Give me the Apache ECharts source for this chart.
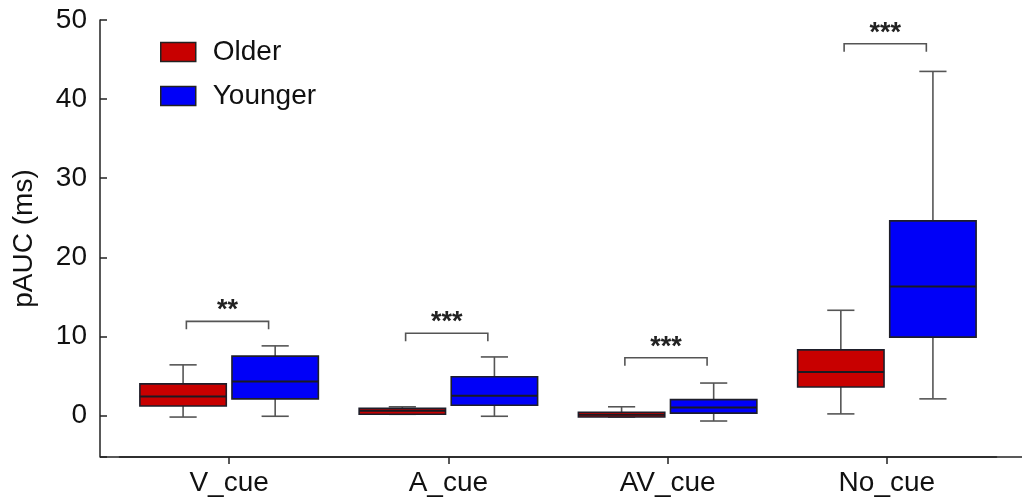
<!DOCTYPE html>
<html>
<head>
<meta charset="utf-8">
<script src="https://cdn.jsdelivr.net/npm/echarts@6/dist/echarts.min.js"></script>
<style>html,body{margin:0;padding:0;background:#fff;}#c{width:1022px;height:499px;}</style>
</head>
<body>
<div id="c"></div>
<script>
var categories = ['V_cue', 'A_cue', 'AV_cue', 'No_cue'];
// [categoryIndex, min, Q1, median, Q3, max]
var olderBoxes = [
  [0, -0.2, 1.2, 2.4, 4.0, 6.4],
  [1, 0.15, 0.15, 0.6, 0.9, 1.1],
  [2, -0.2, -0.2, 0.1, 0.4, 1.1],
  [3, 0.2, 3.6, 5.5, 8.3, 13.3]
];
var youngerBoxes = [
  [0, -0.1, 2.1, 4.3, 7.5, 8.8],
  [1, -0.1, 1.3, 2.5, 4.9, 7.4],
  [2, -0.7, 0.3, 1.0, 2.0, 4.1],
  [3, 2.1, 9.9, 16.3, 24.6, 43.5]
];
var sigHeights = [[0, 11.9], [1, 10.4], [2, 7.3], [3, 47.0]];
var sigLabels = ['**', '***', '***', '***'];
var yTicks = [0, 10, 20, 30, 40, 50];

var FONT = "'Liberation Sans', Arial, sans-serif";
var RED = '#C80000', BLUE = '#0000F8';

function boxRender(sign, fill) {
  return function (params, api) {
    var cat = api.value(0);
    var bw = api.size([1, 0])[0];
    var cx = api.coord([cat, 0])[0] + sign * bw * 0.21;
    var hw = bw * 0.197;
    var cap = bw * 0.062;
    var yMin = api.coord([cat, api.value(1)])[1];
    var yQ1 = api.coord([cat, api.value(2)])[1];
    var yMed = api.coord([cat, api.value(3)])[1];
    var yQ3 = api.coord([cat, api.value(4)])[1];
    var yMax = api.coord([cat, api.value(5)])[1];
    var wh = {stroke: '#555', lineWidth: 1.6};
    var children = [
      {type: 'line', shape: {x1: cx, y1: yMax, x2: cx, y2: yQ3}, style: wh},
      {type: 'line', shape: {x1: cx, y1: yQ1, x2: cx, y2: yMin}, style: wh},
      {type: 'line', shape: {x1: cx - cap, y1: yMax, x2: cx + cap, y2: yMax}, style: wh},
      {type: 'line', shape: {x1: cx - cap, y1: yMin, x2: cx + cap, y2: yMin}, style: wh},
      {type: 'rect', shape: {x: cx - hw, y: yQ3, width: 2 * hw, height: Math.max(yQ1 - yQ3, 1)},
        style: {fill: fill, stroke: '#1e1e2a', lineWidth: 1.6}},
      {type: 'line', shape: {x1: cx - hw, y1: yMed, x2: cx + hw, y2: yMed},
        style: {stroke: '#1a1a22', lineWidth: 2}}
    ];
    return {type: 'group', children: children};
  };
}

function sigRender(params, api) {
  var cat = api.value(0);
  var bw = api.size([1, 0])[0];
  var c = api.coord([cat, api.value(1)]);
  var x1 = c[0] - bw * 0.195, x2 = c[0] + bw * 0.18, y = c[1];
  return {type: 'group', children: [
    {type: 'polyline', shape: {points: [[x1, y + 8], [x1, y], [x2, y], [x2, y + 8]]},
      style: {stroke: '#555', lineWidth: 1.6, fill: null}},
    {type: 'text', x: (x1 + x2) / 2, y: y + 3,
      style: {text: sigLabels[params.dataIndex], font: 'bold 27px ' + FONT, fill: '#222',
        textAlign: 'center', textVerticalAlign: 'bottom'}}
  ]};
}

var chart = echarts.init(document.getElementById('c'), null, {renderer: 'canvas'});
chart.setOption({
  backgroundColor: '#fff',
  animation: false,
  grid: {left: 119.5, right: 25.5, top: 20, bottom: 42},
  legend: {
    orient: 'vertical', left: 160, top: 37, padding: 0, itemGap: 14,
    itemWidth: 35, itemHeight: 19, icon: 'rect',
    itemStyle: {borderColor: '#222', borderWidth: 1.5},
    textStyle: {fontSize: 28, fontFamily: FONT, color: '#111', padding: [0, 0, 0, 12], lineHeight: 30},
    data: ['Older', 'Younger']
  },
  xAxis: {
    type: 'category', data: categories,
    axisLine: {show: true, onZero: false, lineStyle: {color: '#222', width: 1.5}},
    axisTick: {show: true, inside: false, interval: 0, alignWithLabel: true, length: 7,
      lineStyle: {color: '#222', width: 1.5}},
    axisLabel: {fontSize: 28, fontFamily: FONT, color: '#111', margin: 12, interval: 0}
  },
  yAxis: {
    type: 'value', min: -5.25, max: 50, offset: 19.5,
    name: 'pAUC (ms)', nameLocation: 'middle', nameGap: 62,
    nameTextStyle: {fontSize: 28, fontFamily: FONT, color: '#111'},
    axisLine: {show: true, lineStyle: {color: '#222', width: 1.5}},
    axisTick: {show: true, inside: true, length: 7, lineStyle: {color: '#222', width: 1.5}},
    axisLabel: {fontSize: 28, fontFamily: FONT, color: '#111', margin: 13,
      formatter: function (v) { return yTicks.indexOf(Math.round(v * 1000) / 1000) >= 0 ? String(v) : ''; }},
    splitLine: {show: false}
  },
  graphic: [{type: 'line', shape: {x1: 100, y1: 457, x2: 1022, y2: 457},
    style: {stroke: '#222', lineWidth: 1.5}, silent: true}],
  series: [
    {name: 'Older', type: 'custom', renderItem: boxRender(-1, RED), data: olderBoxes,
      itemStyle: {color: RED}, encode: {x: 0, y: [1, 2, 3, 4, 5]}},
    {name: 'Younger', type: 'custom', renderItem: boxRender(1, BLUE), data: youngerBoxes,
      itemStyle: {color: BLUE}, encode: {x: 0, y: [1, 2, 3, 4, 5]}},
    {name: 'sig', type: 'custom', renderItem: sigRender, data: sigHeights,
      encode: {x: 0, y: 1}}
  ]
});
</script>
</body>
</html>
